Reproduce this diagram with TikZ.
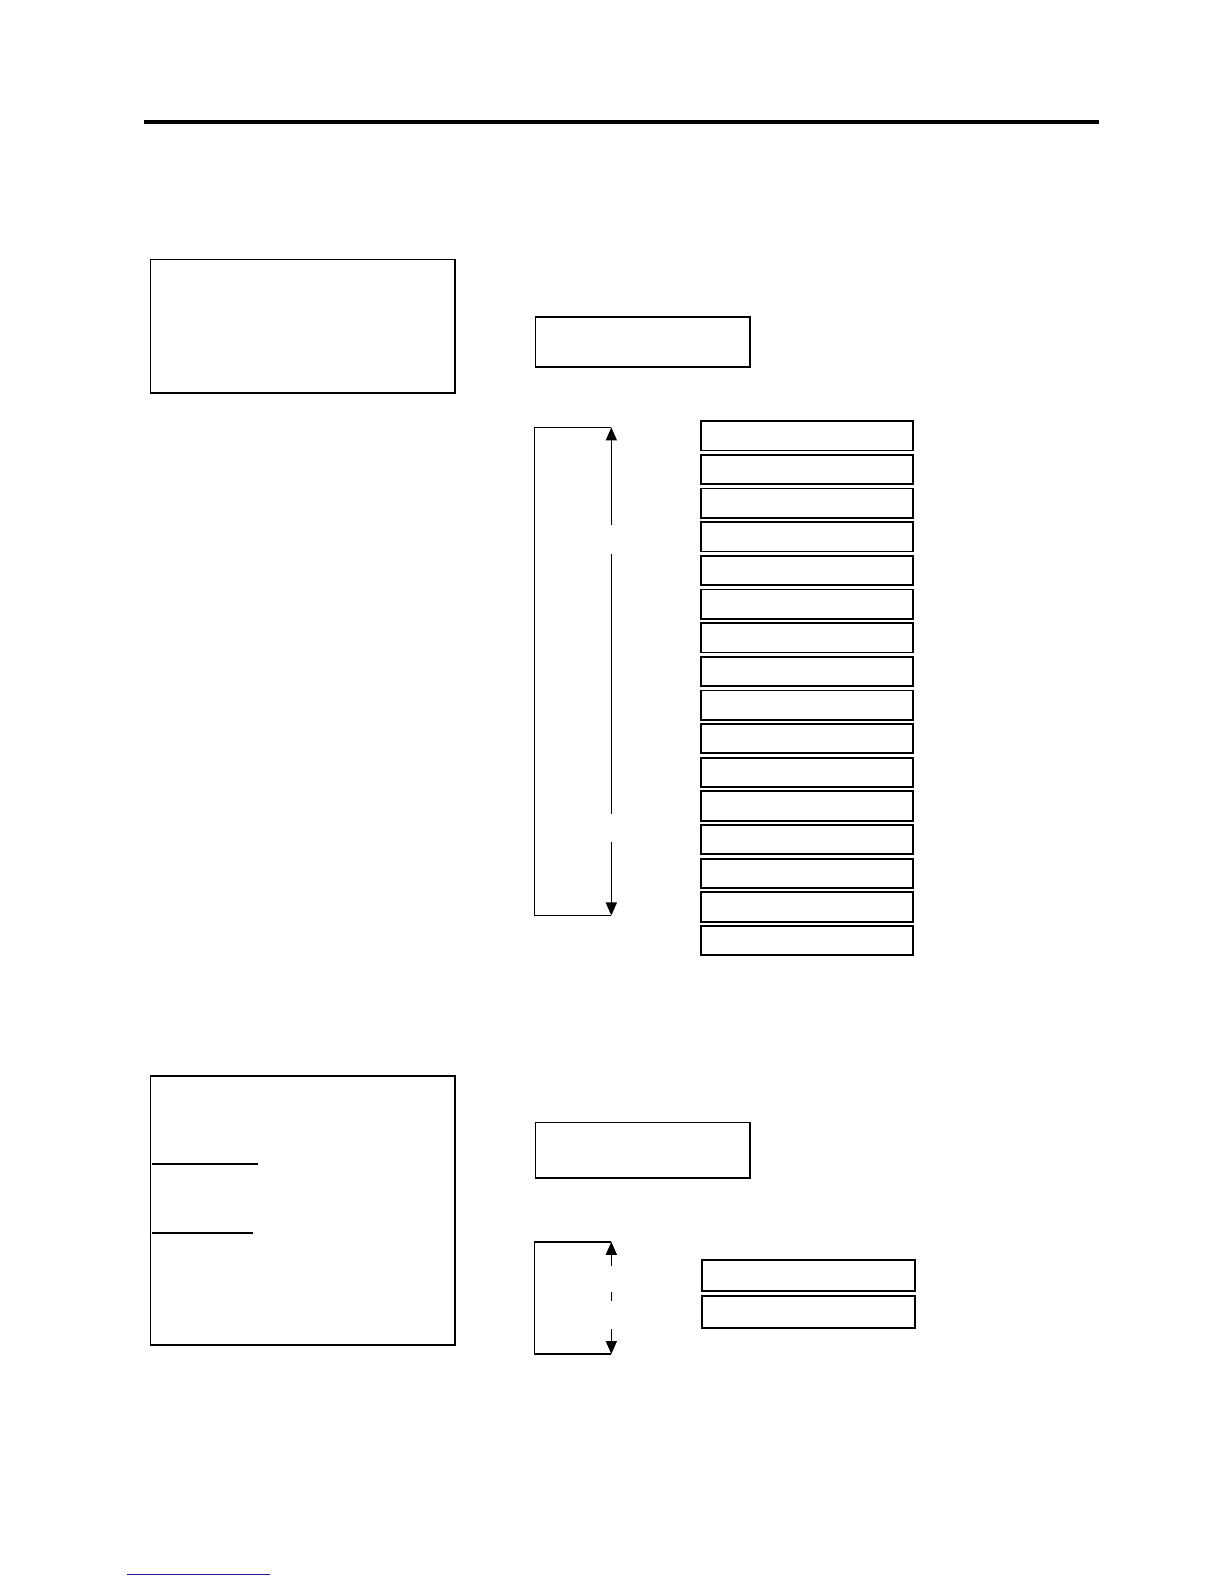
\documentclass[tikz,border=0pt]{standalone}
\usetikzlibrary{arrows.meta}
\definecolor{linkblue}{RGB}{25,25,150}
\begin{document}
\begin{tikzpicture}[x=0.50525pt,y=-0.50525pt,
  box/.style={draw, line width=0.9pt, inner sep=0pt, anchor=north west},
  conn/.style={draw, line width=0.75pt},
  arr/.style={conn, -{Triangle[width=5.5pt,length=6.5pt]}},
  rule/.style={draw, line width=2pt}]
\useasboundingbox (0,0) rectangle (1211.3,1567.6);
% top rule
\coordinate (r1) at (143,121);
\coordinate (r2) at (1088,121);
\draw[rule] (r1) -- (r2);
% section 1
\node[box, minimum width=152.1pt, minimum height=66.7pt] (A) at (148,256) {};
\node[box, minimum width=107.1pt, minimum height=24.8pt] (B) at (529,313) {};
\foreach \i in {0,...,15}{
  \node[box, minimum width=106.1pt, minimum height=14.65pt] (s\i) at (693,{416+\i*33.3}) {};
}
\coordinate (b1tl) at (529,423);
\coordinate (b1tr) at (605,423);
\coordinate (b1bl) at (529,906);
\coordinate (b1br) at (605,906);
\coordinate (a1s) at (605,520);
\coordinate (m1s) at (605,548);
\coordinate (m1e) at (605,806);
\coordinate (a2s) at (605,833);
\draw[conn] (b1tr) -- (b1tl) -- (b1bl) -- (b1br);
\draw[arr] (a1s) -- (b1tr);
\draw[conn] (m1s) -- (m1e);
\draw[arr] (a2s) -- (b1br);
% section 2
\node[box, minimum width=152.1pt, minimum height=134.4pt] (C) at (148,1064) {};
\coordinate (u1s) at (150,1152);
\coordinate (u1e) at (255,1152);
\coordinate (u2s) at (150,1220);
\coordinate (u2e) at (250,1220);
\draw[conn] (u1s) -- (u1e);
\draw[conn] (u2s) -- (u2e);
\node[box, minimum width=107.1pt, minimum height=27.8pt] (D) at (529,1110) {};
\node[box, minimum width=106.6pt, minimum height=15.66pt] (t0) at (694,1246) {};
\node[box, minimum width=106.6pt, minimum height=15.66pt] (t1) at (694,1282) {};
\coordinate (b2tl) at (529,1229);
\coordinate (b2tr) at (605,1229);
\coordinate (b2bl) at (529,1340);
\coordinate (b2br) at (605,1340);
\coordinate (c1s) at (605,1253);
\coordinate (d1s) at (605,1279);
\coordinate (d1e) at (605,1288);
\coordinate (c2s) at (605,1315);
\draw[conn] (b2tr) -- (b2tl) -- (b2bl) -- (b2br);
\draw[arr] (c1s) -- (b2tr);
\draw[conn] (d1s) -- (d1e);
\draw[arr] (c2s) -- (b2br);
% footer line
\coordinate (f1) at (126,1558);
\coordinate (f2) at (267,1558);
\draw[draw=linkblue, line width=0.8pt] (f1) -- (f2);
\end{tikzpicture}
\end{document}
